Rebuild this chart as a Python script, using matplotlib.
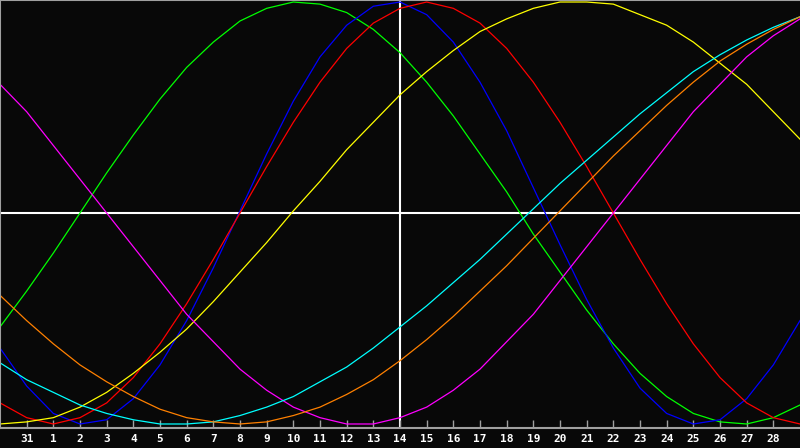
import matplotlib
matplotlib.use('Agg')
import matplotlib.pyplot as plt

# day labels under the ticks (31 Jan, then February)
day_labels = ['31', '1', '2', '3', '4', '5', '6', '7', '8', '9', '10', '11', '12', '13', '14',
              '15', '16', '17', '18', '19', '20', '21', '22', '23', '24', '25', '26', '27', '28']
today_index = 15

# one value per day, from 30 Jan (index 0) to 1 Mar (index 30), scale -100..100
physical = [-64, -82, -95, -100, -98, -88, -72, -51, -26, 1, 28, 53, 74, 89, 98, 100,
            94, 81, 62, 39, 12, -15, -41, -64, -83, -95, -100, -98, -88, -72, -51]
emotional = [-90, -97, -100, -97, -90, -78, -62, -43, -22, 0, 22, 43, 62, 78, 90, 97,
             100, 97, 90, 78, 62, 43, 22, 0, -22, -43, -62, -78, -90, -97, -100]
intellectual = [-54, -37, -19, 0, 19, 37, 54, 69, 81, 91, 97, 100, 99, 95, 87, 76,
                62, 46, 28, 10, -10, -28, -46, -62, -76, -87, -95, -99, -100, -97, -91]
aesthetic = [-100, -99, -97, -92, -85, -76, -66, -55, -42, -28, -14, 1, 15, 30, 43, 56,
             67, 77, 86, 92, 97, 100, 100, 99, 94, 89, 81, 71, 61, 48, 35]
intuitive = [61, 48, 32, 16, 0, -16, -32, -48, -61, -74, -84, -92, -97, -100, -100, -97,
             -92, -84, -74, -61, -48, -32, -16, 0, 16, 32, 48, 61, 74, 84, 92]
spiritual = [-71, -79, -85, -91, -95, -98, -100, -100, -99, -96, -92, -87, -80, -73, -64, -54,
             -44, -33, -22, -10, 2, 14, 25, 36, 47, 57, 67, 75, 82, 88, 93]
awareness = [-39, -51, -62, -72, -80, -87, -93, -97, -99, -100, -99, -96, -92, -86, -79, -70,
             -60, -49, -37, -25, -12, 1, 14, 27, 39, 51, 62, 72, 80, 87, 93]

series = [
    (intellectual, '#00ff00'),
    (physical, '#0000ff'),
    (emotional, '#ff0000'),
    (aesthetic, '#ffff00'),
    (intuitive, '#ff00ff'),
    (spiritual, '#00ffff'),
    (awareness, '#ff8000'),
]

bg = '#080808'
frame = '#a0a0a0'

fig = plt.figure(figsize=(8, 4.48), dpi=100)
fig.patch.set_facecolor(bg)
ax = fig.add_axes([0, 20 / 448, 1, 428 / 448])
ax.set_facecolor(bg)

days = list(range(len(physical)))

# centre line and "today" marker
ax.axhline(0, color='white', lw=1.5, zorder=1)
ax.axvline(today_index, color='white', lw=1.5, zorder=1)

for values, color in series:
    ax.plot(days, values, color=color, lw=0.9, zorder=2)

ax.set_xlim(0, 30)
ax.set_ylim(-101.9, 100.95)

ax.set_xticks(range(1, len(day_labels) + 1))
ax.set_xticklabels(day_labels, fontsize=8, fontweight='bold',
                   family='DejaVu Sans Mono', color='white')
ax.tick_params(axis='x', direction='in', length=6, width=1, color=frame, pad=4)
ax.set_yticks([])

for side in ['top', 'left', 'bottom']:
    ax.spines[side].set_color(frame)
    ax.spines[side].set_linewidth(1.5)
ax.spines['right'].set_visible(False)

fig.savefig('out.png', dpi=100, facecolor=bg)
